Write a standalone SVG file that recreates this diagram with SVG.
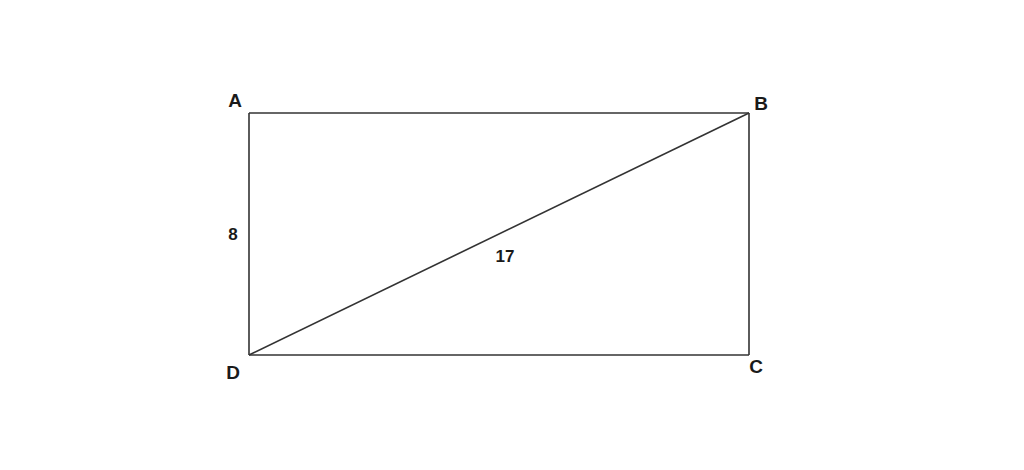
<svg xmlns="http://www.w3.org/2000/svg" width="1024" height="470" viewBox="0 0 1024 470">
<style>
.lbl{font-family:"Liberation Sans",Arial,sans-serif;font-weight:bold;font-size:19px;fill:#1a1a1a;text-anchor:middle}
.edge{stroke:#333;stroke-width:1.6;fill:none}
</style>
<rect width="1024" height="470" fill="#fff"/>
<g id="connectors">
<line class="edge" x1="249" y1="113" x2="749" y2="113"/>
<line class="edge" x1="749" y1="113" x2="749" y2="355"/>
<line class="edge" x1="749" y1="355" x2="249" y2="355"/>
<line class="edge" x1="249" y1="355" x2="249" y2="113"/>
<line class="edge" x1="249" y1="355" x2="749" y2="113"/>
</g>
<g id="A"><text class="lbl" x="235" y="107">A</text></g>
<g id="B"><text class="lbl" x="761" y="110">B</text></g>
<g id="C"><text class="lbl" x="756" y="373">C</text></g>
<g id="D"><text class="lbl" x="233" y="379">D</text></g>
<g id="side"><text class="lbl" x="233" y="240" style="font-size:17px">8</text></g>
<g id="diag"><text class="lbl" x="505" y="262" style="font-size:17px">17</text></g>
</svg>
